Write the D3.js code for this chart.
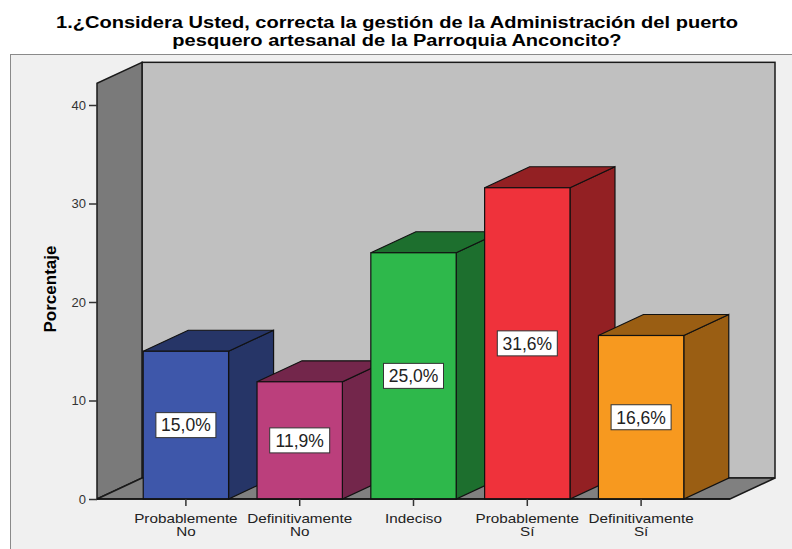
<!DOCTYPE html>
<html>
<head>
<meta charset="utf-8">
<style>
  body { margin: 0; background: #fff; }
  text { font-family: Arial, "Liberation Sans", sans-serif; }
</style>
</head>
<body>
<svg width="792" height="549"></svg>
<script src="https://d3js.org/d3.v7.min.js"></script>
<script>

var categories = [["Probablemente", "No"], ["Definitivamente", "No"], ["Indeciso"], ["Probablemente", "Sí"], ["Definitivamente", "Sí"]],
    values = [15.0, 11.9, 25.0, 31.6, 16.6],
    labels = ["15,0%", "11,9%", "25,0%", "31,6%", "16,6%"],
    yTicks = [0, 10, 20, 30, 40],
    frontColors = ["#3e57aa", "#bb3f7c", "#2eb84b", "#ef323b", "#f7991f"],
    sideColors = ["#263567", "#73264b", "#1d6f2e", "#932023", "#9a5e13"];

var svg = d3.select("svg");

var x0 = 97, x1 = 730, // front floor edge
    dx = 45, dy = 21;  // depth offset

var y = d3.scaleLinear().domain([0, 40]).range([499, 105]);
var wallTop = y(42.2);

var x = d3.scaleBand()
    .domain(d3.range(values.length))
    .range([129, 698])
    .paddingInner(0.25)
    .paddingOuter(0.125);

// title (the original is a bit stretched horizontally)
svg.append("g")
    .attr("transform", "translate(397,0) scale(1.18,1)")
  .append("text")
    .attr("text-anchor", "middle")
    .style("font-weight", "bold").style("font-size", "17px")
  .selectAll("tspan")
  .data(["1.¿Considera Usted, correcta la gestión de la Administración del puerto",
         "pesquero artesanal de la Parroquia Anconcito?"])
  .enter().append("tspan")
    .attr("x", 0)
    .attr("y", function(d, i) { return 28 + i * 18; })
    .text(function(d) { return d; });

// panel
svg.append("rect")
    .attr("x", 10.5).attr("y", 54.5)
    .attr("width", 800).attr("height", 520)
    .attr("fill", "#f0f0f0")
    .attr("stroke", "#8a8a8a");

function pts(a) { return a.map(function(p) { return p.join(","); }).join(" "); }

// back wall
svg.append("rect")
    .attr("x", x0 + dx).attr("y", wallTop - dy)
    .attr("width", x1 - x0).attr("height", y(0) - wallTop)
    .attr("fill", "#c0c0c0")
    .attr("stroke", "#1a1a1a").attr("stroke-width", 1.5);

// left wall
svg.append("polygon")
    .attr("points", pts([[x0, y(0)], [x0, wallTop], [x0 + dx, wallTop - dy], [x0 + dx, y(0) - dy]]))
    .attr("fill", "#7a7a7a")
    .attr("stroke", "#1a1a1a").attr("stroke-width", 1.5);

// floor
svg.append("polygon")
    .attr("points", pts([[x0, y(0)], [x0 + dx, y(0) - dy], [x1 + dx, y(0) - dy], [x1, y(0)]]))
    .attr("fill", "#808080")
    .attr("stroke", "#1a1a1a").attr("stroke-width", 1.5);

// y axis
var yAxis = svg.append("g")
    .attr("transform", "translate(" + x0 + ",0)")
    .call(d3.axisLeft(y).tickValues(yTicks).tickSize(8).tickPadding(3));
yAxis.select(".domain").remove();
yAxis.selectAll("line").attr("stroke", "#333").attr("stroke-width", 1.5);
yAxis.selectAll("text").style("font-size", "13px").attr("fill", "#333")
    .style("font-family", "Arial, 'Liberation Sans', sans-serif");

svg.append("text")
    .attr("transform", "translate(56,289) rotate(-90)")
    .attr("text-anchor", "middle")
    .style("font-weight", "bold").style("font-size", "17px")
    .text("Porcentaje");

// bars
var bw = x.bandwidth();
var bar = svg.selectAll(".bar")
  .data(values)
  .enter().append("g")
    .attr("class", "bar");

bar.append("polygon")
    .attr("points", function(d, i) {
      var l = x(i) + bw, t = y(d);
      return pts([[l, y(0)], [l, t], [l + dx, t - dy], [l + dx, y(0) - dy]]);
    })
    .attr("fill", function(d, i) { return sideColors[i]; })
    .attr("stroke", "#111").attr("stroke-width", 1.2);

bar.append("polygon")
    .attr("points", function(d, i) {
      var l = x(i), t = y(d);
      return pts([[l, t], [l + dx, t - dy], [l + bw + dx, t - dy], [l + bw, t]]);
    })
    .attr("fill", function(d, i) { return sideColors[i]; })
    .attr("stroke", "#111").attr("stroke-width", 1.2);

bar.append("rect")
    .attr("x", function(d, i) { return x(i); })
    .attr("y", function(d) { return y(d); })
    .attr("width", bw)
    .attr("height", function(d) { return y(0) - y(d); })
    .attr("fill", function(d, i) { return frontColors[i]; })
    .attr("stroke", "#111").attr("stroke-width", 1.2);

// floor front edge on top of bars
svg.append("line")
    .attr("x1", x0).attr("x2", x1)
    .attr("y1", y(0)).attr("y2", y(0))
    .attr("stroke", "#111").attr("stroke-width", 1.5);

// value labels
var lab = bar.append("g")
    .attr("transform", function(d, i) {
      return "translate(" + (x(i) + bw / 2) + "," + ((y(d) + y(0)) / 2) + ")";
    });
lab.append("rect")
    .attr("x", -30).attr("y", -12.5)
    .attr("width", 60).attr("height", 25)
    .attr("fill", "#fff")
    .attr("stroke", "#333").attr("stroke-width", 1);
lab.append("text")
    .attr("text-anchor", "middle")
    .attr("dy", "0.36em")
    .style("font-size", "17.5px")
    .attr("fill", "#222")
    .text(function(d, i) { return labels[i]; });

// x ticks and labels, one text per line
var xt = svg.selectAll(".xt")
  .data(categories)
  .enter().append("g")
    .attr("class", "xt")
    .attr("transform", function(d, i) { return "translate(" + (x(i) + bw / 2) + "," + y(0) + ")"; });
xt.append("line")
    .attr("y1", 0).attr("y2", 7)
    .attr("stroke", "#333").attr("stroke-width", 1.5);
xt.selectAll("text")
  .data(function(d) { return d; })
  .enter().append("text")
    .attr("text-anchor", "middle")
    .attr("transform", function(d, i) { return "translate(0," + (24 + i * 13) + ") scale(1.22,1)"; })
    .style("font-size", "12.5px")
    .attr("fill", "#222")
    .text(function(d) { return d; });

</script>
</body>
</html>
